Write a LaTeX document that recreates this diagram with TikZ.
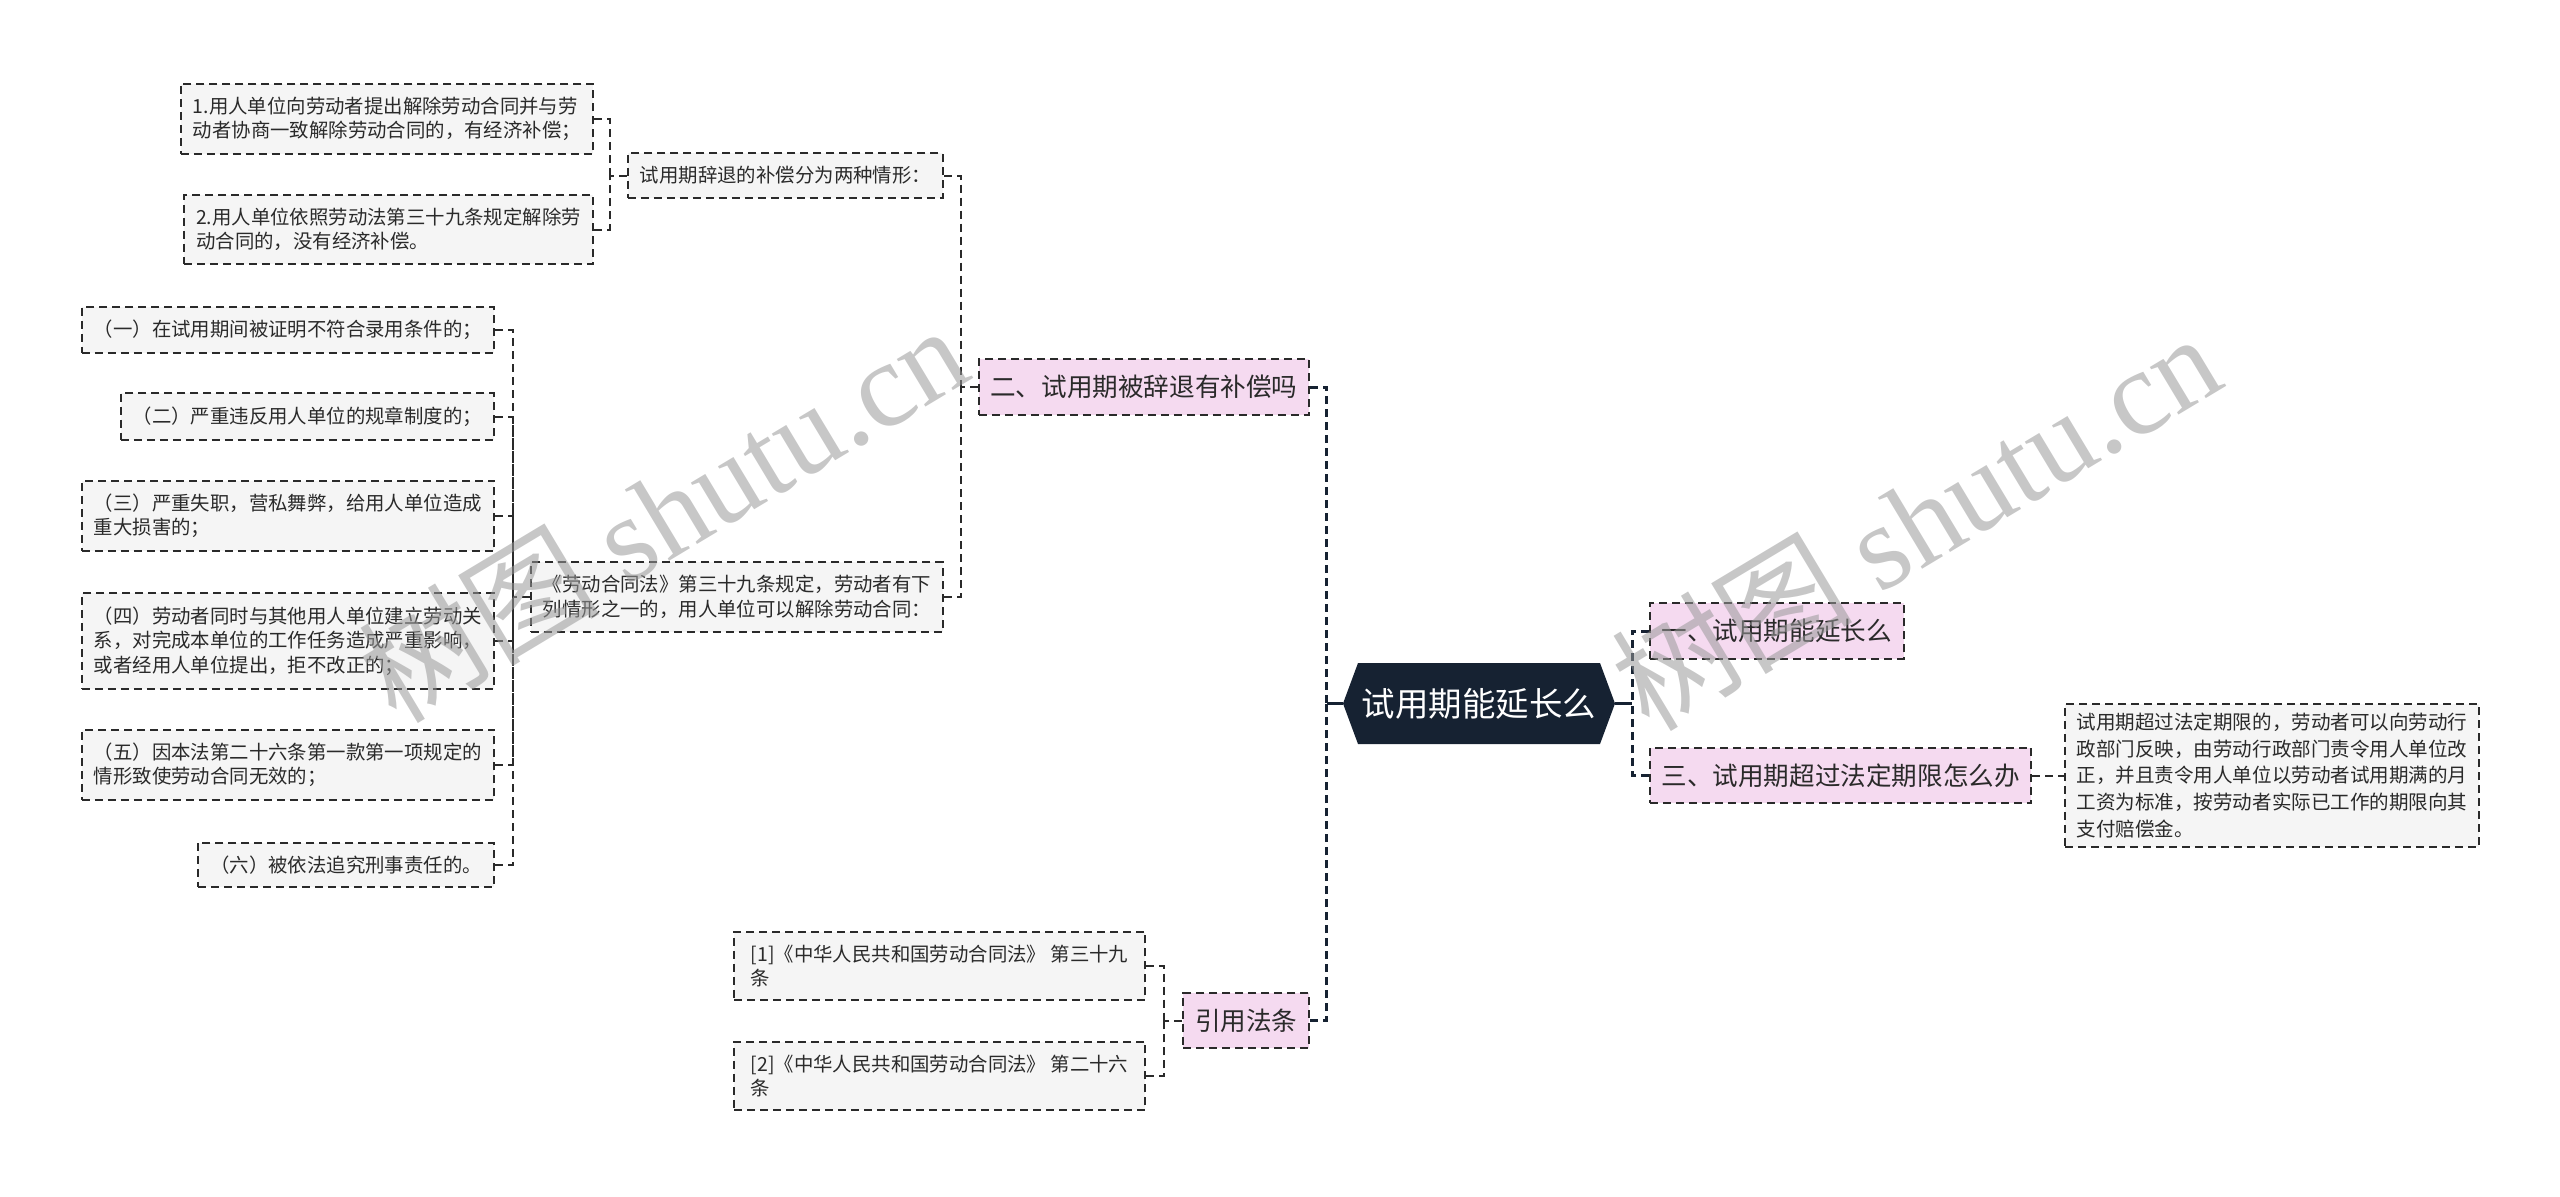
\documentclass[tikz,border=0pt]{standalone}
\usepackage{fontspec}
\setmainfont{Noto Sans CJK SC}
\newfontfamily\wmlatin{Liberation Serif}
\usepackage{xcolor}
\usepackage{tikz}
\definecolor{rootfill}{HTML}{162232}
\definecolor{pinkfill}{HTML}{F5DAF0}
\definecolor{leaffill}{HTML}{F5F5F5}
\definecolor{ink}{HTML}{2A2A2A}
\newcommand{\leaffont}{\fontsize{13.8}{17.4}\selectfont}
\newcommand{\notefont}{\fontsize{13.9}{18.9}\selectfont}
\newcommand{\topicfont}{\fontsize{18.2}{21}\selectfont}
\newcommand{\rootfont}{\fontsize{23.8}{28}\selectfont}

\begin{document}
\begin{tikzpicture}[
      x=0.25mm, y=-0.25mm,
      box/.style={draw=ink, line width=0.5mm, dash pattern=on 2mm off 1.25mm,
                  text=ink, align=left},
      leaf/.style={box, fill=leaffill, font=\leaffont, inner xsep=3mm, inner ysep=3.3mm, anchor=east},
      note/.style={box, fill=leaffill, font=\notefont, inner xsep=2.9mm, inner ysep=2.3mm, anchor=west},
      topic/.style={box, fill=pinkfill, font=\topicfont, inner xsep=2.9mm, inner ysep=4mm},
      root/.style={minimum width=68mm, minimum height=20.25mm, inner sep=0pt, fill=white,
                   text=white, font=\rootfont,
                   path picture={\fill[rootfill] (path picture bounding box.west)
                     -- ([xshift=3.75mm]path picture bounding box.north west)
                     -- ([xshift=-3.75mm]path picture bounding box.north east)
                     -- (path picture bounding box.east)
                     -- ([xshift=-3.75mm]path picture bounding box.south east)
                     -- ([xshift=3.75mm]path picture bounding box.south west) -- cycle;}},
      link/.style={draw=ink, line width=0.5mm, dash pattern=on 2mm off 1.25mm},
      trunk/.style={draw=rootfill, line width=0.75mm, dash pattern=on 2mm off 1.25mm},
      stem/.style={draw=rootfill, line width=0.75mm},
      watermark/.style={text=black!40, opacity=0.55, rotate=31,
                        font=\fontsize{86}{86}\selectfont}
  ]
    \useasboundingbox (0,0) rectangle (2560,1196);

    % --- Root ---
    \node[root] (root) at (1479,703.5) {试用期能延长么};

    % --- Right topics ---
    \node[topic, anchor=west] (t1) at (1649,631) {一、试用期能延长么};
    \node[topic, anchor=west] (t3) at (1649,775.5) {三、试用期超过法定期限怎么办};
    \node[note] (n3) at (2064,775.5)
          {试用期超过法定期限的，劳动者可以向劳动行\\政部门反映，由劳动行政部门责令用人单位改\\正，并且责令用人单位以劳动者试用期满的月\\工资为标准，按劳动者实际已工作的期限向其\\支付赔偿金。};

    % --- Left topics ---
    \node[topic, anchor=east] (t2) at (1310,387) {二、试用期被辞退有补偿吗};
    \node[topic, anchor=east] (t4) at (1310,1020.5) {引用法条};

    % --- Under topic two ---
    \node[leaf] (comp) at (944,175.5) {试用期辞退的补偿分为两种情形：};
    \node[leaf] (law) at (944,597)
          {《劳动合同法》第三十九条规定，劳动者有下\\列情形之一的，用人单位可以解除劳动合同：};

    \node[leaf] (c1) at (594,119)
          {1.用人单位向劳动者提出解除劳动合同并与劳\\动者协商一致解除劳动合同的，有经济补偿；};
    \node[leaf] (c2) at (594,229.5)
          {2.用人单位依照劳动法第三十九条规定解除劳\\动合同的，没有经济补偿。};

    \node[leaf] (r1) at (495,330) {（一）在试用期间被证明不符合录用条件的；};
    \node[leaf] (r2) at (495,416.5) {（二）严重违反用人单位的规章制度的；};
    \node[leaf] (r3) at (495,516) {（三）严重失职，营私舞弊，给用人单位造成\\重大损害的；};
    \node[leaf] (r4) at (495,641)
          {（四）劳动者同时与其他用人单位建立劳动关\\系，对完成本单位的工作任务造成严重影响，\\或者经用人单位提出，拒不改正的；};
    \node[leaf] (r5) at (495,765) {（五）因本法第二十六条第一款第一项规定的\\情形致使劳动合同无效的；};
    \node[leaf] (r6) at (495,865) {（六）被依法追究刑事责任的。};

    % --- Under topic four ---
    \node[leaf, minimum width=102.75mm] (ref1) at (1146,966) {[1]《中华人民共和国劳动合同法》 第三十九\\条};
    \node[leaf, minimum width=102.75mm] (ref2) at (1146,1076) {[2]《中华人民共和国劳动合同法》 第二十六\\条};

    % --- Connectors ---
    \draw[stem] (root.west) -- ++(-16,0) coordinate (lj);
    \draw[stem] (root.east) -- ++(17,0) coordinate (rj);
    \draw[trunk] (t2.east) -| (lj);
    \draw[trunk] (t4.east) -| (lj);
    \draw[trunk] (t1.west) -| (rj);
    \draw[trunk] (t3.west) -| (rj);
    \draw[link] (t3.east) -- (n3.west);

    \draw[link] (t2.west) -- ++(-17,0) coordinate (bj);
    \draw[link] (comp.east) -| (bj);
    \draw[link] (law.east) -| (bj);

    \draw[link] (comp.west) -- ++(-17,0) coordinate (cj);
    \draw[link] (c1.east) -| (cj);
    \draw[link] (c2.east) -| (cj);

    \draw[link] (law.west) -- ++(-17,0) coordinate (wj);
    \foreach \n in {r1,r2,r3,r4,r5,r6}
      \draw[link] (\n.east) -| (wj);

    \draw[link] (t4.west) -- ++(-18,0) coordinate (dj);
    \draw[link] (ref1.east) -| (dj);
    \draw[link] (ref2.east) -| (dj);

    % --- Watermarks ---
    \node[watermark] (wm1) at (662,512) {树图 {\wmlatin shutu.cn}};
    \node[watermark] (wm2) at (1915,520) {树图 {\wmlatin shutu.cn}};

\end{tikzpicture}
\end{document}
